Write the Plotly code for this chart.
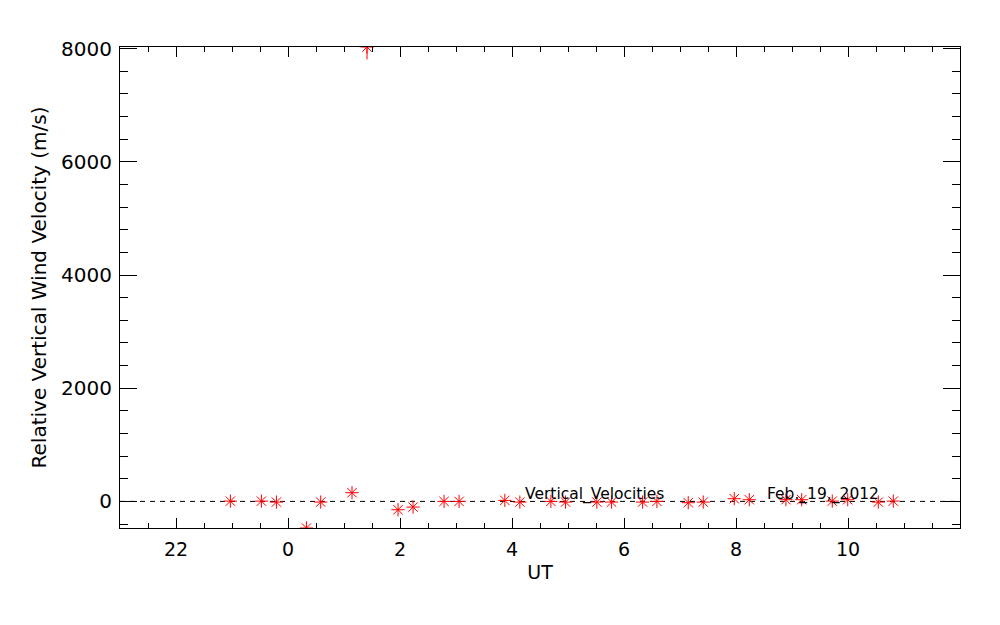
import plotly.graph_objects as go

# UT hours relative to midnight (negative = previous day)
ut_hours = [-1.029, -0.475, -0.207, 0.329, 0.584, 1.143, 1.411, 1.965, 2.233,
            2.787, 3.055, 3.872, 4.140, 4.694, 4.956, 5.515, 5.778, 6.332,
            6.588, 7.147, 7.415, 7.969, 8.237, 8.892, 9.173, 9.719, 9.995,
            10.541, 10.809]
velocity = [5, 5, -12, -470, -12, 154, 8030, -147, -100,
            0, 0, 18, -12, 0, -12, -12, -12, -12,
            0, -23, -12, 48, 30, 30, 30, 5, 30,
            -12, 5]
err_minus = [0, 0, 0, 0, 0, 0, 220, 0, 0,
             0, 0, 0, 0, 0, 0, 0, 0, 0,
             0, 0, 0, 0, 0, 0, 0, 0, 0,
             0, 0]

x_tickvals = [-2, 0, 2, 4, 6, 8, 10]
x_ticktext = ["22", "0", "2", "4", "6", "8", "10"]
y_tickvals = [0, 2000, 4000, 6000, 8000]

label_series = "Vertical_Velocities"
label_date = "Feb._19,_2012"
label_series_x = 4.19
label_date_x = 8.52

FONT = "DejaVu Sans"

fig = go.Figure()

fig.add_trace(go.Scatter(
    x=ut_hours, y=velocity, mode="markers",
    marker=dict(symbol="asterisk-open", size=11, color="red",
                line=dict(color="red", width=1)),
    error_y=dict(type="data", symmetric=False, array=[0] * len(err_minus),
                 arrayminus=err_minus, color="red", thickness=1, width=0),
    showlegend=False,
))

fig.add_shape(type="line", xref="paper", yref="y", x0=0, x1=1, y0=0, y1=0,
              line=dict(color="black", width=1, dash="5px,5px"), layer="below")

fig.add_annotation(x=label_series_x, y=0, text=label_series, showarrow=False,
                   xanchor="left", yanchor="bottom", yshift=-5,
                   font=dict(family=FONT, size=15.5, color="black"))
fig.add_annotation(x=label_date_x, y=0, text=label_date, showarrow=False,
                   xanchor="left", yanchor="bottom", yshift=-5,
                   font=dict(family=FONT, size=15.5, color="black"))

fig.update_layout(
    width=1000, height=625,
    margin=dict(l=112, r=48, t=39, b=105),
    plot_bgcolor="white", paper_bgcolor="white",
    font=dict(family=FONT, size=20, color="black"),
    xaxis=dict(
        range=[-3, 12], tickmode="array", tickvals=x_tickvals, ticktext=x_ticktext,
        ticks="inside", ticklen=10, tickwidth=1, tickcolor="black",
        showline=True, linecolor="black", linewidth=1, mirror="allticks",
        showgrid=False, zeroline=False, ticklabelstandoff=4,
        minor=dict(dtick=0.5, tick0=0, ticks="inside", ticklen=5,
                   tickwidth=1, tickcolor="black", showgrid=False),
        title=dict(text="UT", font=dict(family=FONT, size=19), standoff=6),
        tickfont=dict(family=FONT, size=19),
    ),
    yaxis=dict(
        range=[-470, 8030], tickmode="array", tickvals=y_tickvals,
        ticks="inside", ticklen=17, tickwidth=1, tickcolor="black",
        showline=True, linecolor="black", linewidth=1, mirror="allticks",
        showgrid=False, zeroline=False, ticklabelstandoff=3,
        minor=dict(dtick=400, tick0=0, ticks="inside", ticklen=8,
                   tickwidth=1, tickcolor="black", showgrid=False),
        title=dict(text="Relative Vertical Wind Velocity (m/s)",
                   font=dict(family=FONT, size=20), standoff=9),
        tickfont=dict(family=FONT, size=20),
    ),
)

fig.write_html("out.html")
